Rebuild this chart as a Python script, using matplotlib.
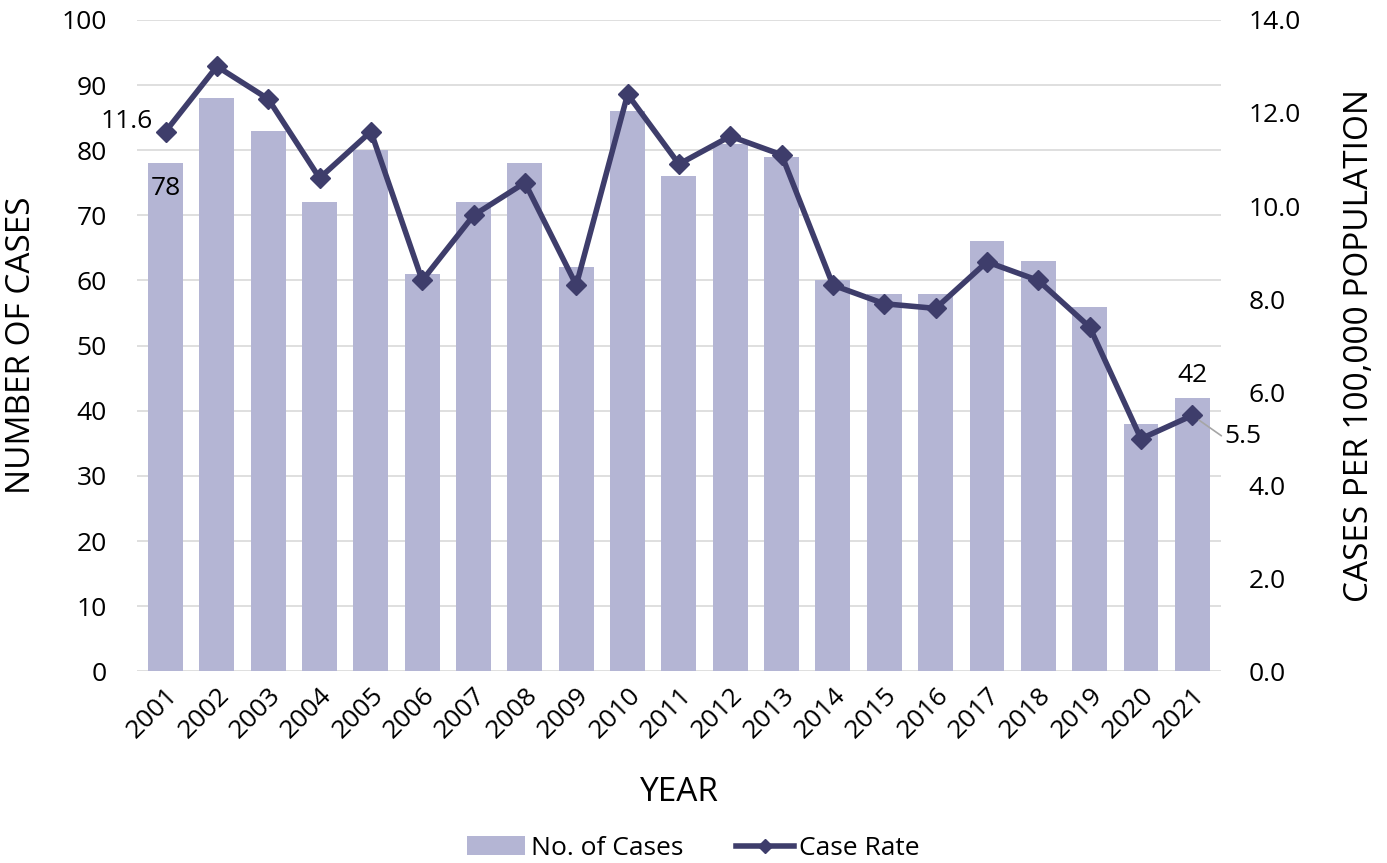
import numpy as np
import matplotlib.pyplot as plt

plt.rcParams['font.family'] = ['Open Sans', 'DejaVu Sans']

years = [str(y) for y in range(2001, 2022)]
cases = [78, 88, 83, 72, 80, 61, 72, 78, 62, 86, 76, 81, 79, 60, 58, 58, 66, 63, 56, 38, 42]
rate = [11.6, 13.0, 12.3, 10.6, 11.6, 8.4, 9.8, 10.5, 8.3, 12.4, 10.9, 11.5, 11.1,
        8.3, 7.9, 7.8, 8.8, 8.4, 7.4, 5.0, 5.5]

bar_color = '#B4B5D4'
line_color = '#3E3D6B'

fig = plt.figure(figsize=(13.87, 8.63), dpi=100)
ax = fig.add_axes([0.099, 0.222, 0.781, 0.755])
x = np.arange(len(years))

ax.bar(x, cases, width=0.68, color=bar_color, zorder=2, label='No. of Cases')
ax.set_ylim(0, 100)
ax.set_yticks(range(0, 101, 10))
ax.set_xlim(-0.55, len(years) - 0.45)
ax.grid(axis='y', color='#D9D9D9', linewidth=1.2, zorder=0)
ax.set_xticks(x)
ax.set_xticklabels(years, rotation=45, ha='right', rotation_mode='anchor')
for s in ax.spines.values():
    s.set_visible(False)
ax.tick_params(length=0, labelsize=19, colors='#000000', pad=22)
ax.tick_params(axis='x', pad=8)
ax.set_ylabel('NUMBER OF CASES', fontsize=24)
ax.yaxis.set_label_coords(-0.092, 0.5)
ax.set_xlabel('YEAR', fontsize=24, labelpad=24)

ax2 = ax.twinx()
ax2.plot(x, rate, color=line_color, linewidth=4, marker='D', markersize=10,
         zorder=3, label='Case Rate')
ax2.set_ylim(0, 14)
ax2.set_yticks(np.arange(0, 14.1, 2))
ax2.set_yticklabels([f'{v:.1f}' for v in np.arange(0, 14.1, 2)])
for s in ax2.spines.values():
    s.set_visible(False)
ax2.tick_params(length=0, labelsize=19, pad=20)
ax2.set_ylabel('CASES PER 100,000 POPULATION', fontsize=24)
ax2.yaxis.set_label_coords(1.113, 0.5)

# data labels
ax.text(x[0], cases[0] - 2.0, str(cases[0]), ha='center', va='top', fontsize=19)
ax.text(x[-1], cases[-1] + 1.5, str(cases[-1]), ha='center', va='bottom', fontsize=19)
ax2.text(x[0] - 0.25, rate[0] - 0.05, f'{rate[0]:.1f}', ha='right', va='bottom', fontsize=19)
ax2.annotate(f'{rate[-1]:.1f}', xy=(x[-1], rate[-1]), xytext=(x[-1] + 0.62, rate[-1] - 0.45),
             ha='left', va='center', fontsize=19,
             arrowprops=dict(arrowstyle='-', color='#A6A6A6', lw=1.2,
                             connectionstyle='angle,angleA=0,angleB=-35,rad=0',
                             shrinkA=0, shrinkB=6))

h1, l1 = ax.get_legend_handles_labels()
h2, l2 = ax2.get_legend_handles_labels()
leg = fig.legend(h1 + h2, l1 + l2, loc='lower center', ncol=2, frameon=False,
                 fontsize=19, bbox_to_anchor=(0.5, -0.025), handlelength=2.2,
                 columnspacing=2.0, handletextpad=0.2, markerscale=0.7)

fig.savefig('out.png', dpi=100)
